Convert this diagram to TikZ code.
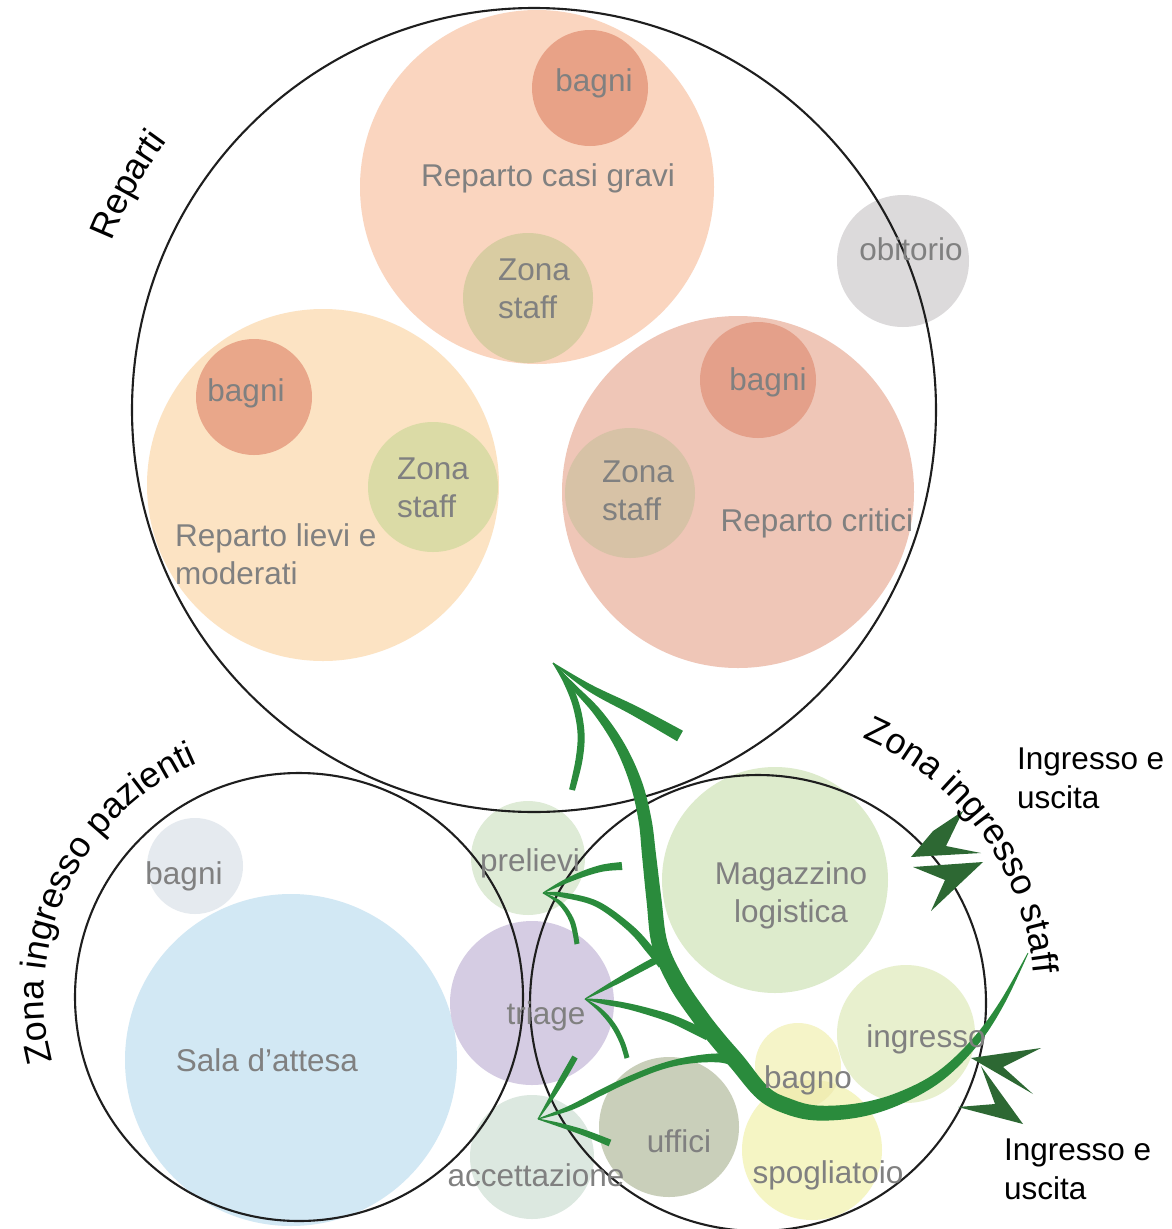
\documentclass[tikz,border=0pt]{standalone}
\usepackage{fontspec}
\setmainfont{Liberation Sans}
\usetikzlibrary{decorations.text}

% palette
\definecolor{txtgray}{HTML}{808080}
\definecolor{ringline}{HTML}{1E1E1E}
\definecolor{flowgreen}{HTML}{2A8B3C}
\definecolor{gatedark}{HTML}{2D6833}
\definecolor{cGravi}{HTML}{FAD5BF}
\definecolor{cGraviWc}{HTML}{E8A287}
\definecolor{cGraviStaff}{HTML}{D9CCA2}
\definecolor{cLievi}{HTML}{FCE3C3}
\definecolor{cLieviWc}{HTML}{E9A78A}
\definecolor{cLieviStaff}{HTML}{DBDBA6}
\definecolor{cCritici}{HTML}{EFC6B7}
\definecolor{cCriticiWc}{HTML}{E4A08A}
\definecolor{cCriticiStaff}{HTML}{D7C2A6}
\definecolor{cObitorio}{HTML}{DCDADB}
\definecolor{cWcPaz}{HTML}{E5EAEF}
\definecolor{cSala}{HTML}{D2E8F4}
\definecolor{cPrelievi}{HTML}{DEEBD6}
\definecolor{cTriage}{HTML}{D5CCE3}
\definecolor{cAccett}{HTML}{DCE8E0}
\definecolor{cMagazz}{HTML}{DDEBCC}
\definecolor{cIngresso}{HTML}{E8F0CE}
\definecolor{cBagno}{HTML}{F5F4C8}
\definecolor{cBagnoMix}{HTML}{F0EDB3}
\definecolor{cSpogl}{HTML}{F5F5C4}
\definecolor{cUffici}{HTML}{C9CFBA}

\newcommand\lblfont{\fontsize{31.5}{38}\selectfont}
\newcommand\iofont{\fontsize{31.5}{39}\selectfont}
\newcommand\zonefont{\fontsize{36}{40}\selectfont}

% Tapered brush stroke: #1 fill colour, #2 list of x/y/width along the centre line
\newcommand\brush[2]{%
  \foreach \px/\py/\pw [count=\k] in {#2}{%
    \expandafter\xdef\csname brx\k\endcsname{\px}%
    \expandafter\xdef\csname bry\k\endcsname{\py}%
    \expandafter\xdef\csname brw\k\endcsname{\pw}%
    \xdef\brn{\k}%
  }%
  \gdef\brL{}\gdef\brR{}%
  \foreach \i in {1,...,\brn}{%
    \pgfmathtruncatemacro\ia{max(\i-1,1)}%
    \pgfmathtruncatemacro\ib{min(\i+1,\brn)}%
    \edef\xa{\csname brx\ia\endcsname}\edef\ya{\csname bry\ia\endcsname}%
    \edef\xb{\csname brx\ib\endcsname}\edef\yb{\csname bry\ib\endcsname}%
    \edef\xc{\csname brx\i\endcsname}\edef\yc{\csname bry\i\endcsname}%
    \edef\wc{\csname brw\i\endcsname}%
    \pgfmathsetmacro\an{atan2(\yb-\ya,\xb-\xa)+90}%
    \pgfmathsetmacro\lx{\xc+0.5*\wc*cos(\an)}%
    \pgfmathsetmacro\ly{\yc+0.5*\wc*sin(\an)}%
    \pgfmathsetmacro\rx{\xc-0.5*\wc*cos(\an)}%
    \pgfmathsetmacro\ry{\yc-0.5*\wc*sin(\an)}%
    \xdef\brL{\brL(\lx,\ly)}%
    \xdef\brR{(\rx,\ry)\brR}%
  }%
  \edef\brcmd{\noexpand\fill[#1] plot[smooth,tension=0.6] coordinates {\brL} -- plot[smooth,tension=0.6] coordinates {\brR} -- cycle;}%
  \brcmd
}

\begin{document}
\begin{tikzpicture}[x=1pt,y=-1pt,
  ring/.style={draw=ringline, line width=2.1pt},
  lbl/.style={text=txtgray, font=\lblfont, inner sep=0pt, text height=22.5pt, text depth=0pt},
  lblm/.style={text=txtgray, font=\lblfont, inner sep=0pt},
  zone/.style={text=black, font=\iofont, inner sep=0pt, align=left, anchor=west},
  curved/.style={decorate, decoration={text along path, text align=center, text={|\zonefont|#1}}},
  gate/.style={fill=gatedark}
]
\useasboundingbox (0,0) rectangle (1171,1229);
\fill[white] (0,0) rectangle (1171,1229);

% wards
\fill[cGravi] (537,187) circle[radius=177];
\fill[cGraviWc] (590,88) circle[radius=58];
\fill[cGraviStaff] (528,298) circle[radius=65];
\fill[cLievi] (323,485) circle[radius=176];
\fill[cLieviWc] (254,397) circle[radius=58];
\fill[cLieviStaff] (433,487) circle[radius=65];
\fill[cCritici] (738,492) circle[radius=176];
\fill[cCriticiWc] (758,380) circle[radius=58];
\fill[cCriticiStaff] (630,493) circle[radius=65];
\fill[cObitorio] (903,261) circle[radius=66];

% patients' entrance
\fill[cWcPaz] (195,866) circle[radius=48];
\fill[cSala] (291,1060) circle[radius=166];
\fill[cPrelievi] (528,858) circle[radius=57];
\fill[cTriage] (532,1003) circle[radius=82];
\fill[cAccett] (532,1157) circle[radius=62];

% staff entrance
\fill[cMagazz] (775,880) circle[radius=113];
\fill[cIngresso] (906,1034) circle[radius=69];
\fill[cSpogl] (812,1150) circle[radius=70];
\fill[cBagno] (798,1066) circle[radius=43];
\begin{scope}
  \clip (812,1150) circle[radius=70];
  \fill[cBagnoMix] (798,1066) circle[radius=43];
\end{scope}
\fill[cUffici] (669,1127) circle[radius=70];

% zone outlines
\draw[ring] (534,410) circle[radius=402];
\draw[ring] (299,997) circle[radius=224];
\draw[ring] (758,1003) circle[radius=228];

% main staff route
\brush{flowgreen}{553/663/0.5, 573/686/5, 598/713/8, 620/746/10, 636/783/12, 645/820/13, 649/855/14, 654/900/15, 660/945/16, 677/983/17, 700/1017/17, 718/1040/17, 737/1062/17, 763/1093/16, 787/1106/16, 817/1113/15, 860/1110/14, 900/1098/12, 940/1076/10, 975/1042/8, 1002/1003/5, 1028/953/0.8}
% head towards the wards
\brush{flowgreen}{553/663/1, 566/681/6, 576/705/7, 581/733/7, 579/760/7, 572/790/6}
\brush{flowgreen}{553/663/1, 590/688/7, 635/711/10, 680/736/12}
% branch to prelievi
\brush{flowgreen}{543/893/1, 563/895/5, 597/904/6, 630/928/7, 650/950/8, 662/965/8}
\brush{flowgreen}{543/893/1, 562/883/4, 583/874/6, 603/868/7, 622/866/8}
\brush{flowgreen}{543/893/1, 560/903/4, 572/921/5, 577/944/5}
% branch to triage
\brush{flowgreen}{585/999/1, 605/1002/5, 627/1006/6, 650/1012/7, 672/1019/8, 692/1028/9, 708/1036/9}
\brush{flowgreen}{585/999/1, 605/988/4, 625/977/6, 645/966/7, 662/957/7}
\brush{flowgreen}{585/999/1, 600/1010/4, 613/1025/5, 622/1042/5, 627/1058/5}
% branch to accettazione
\brush{flowgreen}{538/1119/1, 570/1108/5, 600/1093/6, 625/1081/6, 660/1067/6, 690/1060/7, 720/1058/9, 738/1063/9}
\brush{flowgreen}{538/1119/1, 550/1100/4, 563/1078/6, 575/1057/6}
\brush{flowgreen}{538/1119/1, 560/1125/4, 585/1133/6, 610/1143/7}

% in/out gates
\fill[gate] (911,857) -- (933,831) -- (963,811) -- (946,846) -- (981,853) -- cycle;
\fill[gate] (983,862) -- (913,867) -- (945,880) -- (931,911) -- cycle;
\fill[gate] (971,1058) -- (1041,1048) -- (1003,1067) -- (1033,1094) -- cycle;
\fill[gate] (1023,1124) -- (981,1066) -- (995,1104) -- (958,1107) -- cycle;

% room labels
\node[lbl] (wc-gravi) at (594,80) {bagni};
\node[lbl] (t-gravi) at (548,175) {Reparto casi gravi};
\node[lblm, align=left, anchor=west] (st-gravi) at (498,289) {Zona\\staff};
\node[lbl] (t-obit) at (911,249) {obitorio};
\node[lbl] (wc-lievi) at (246,390) {bagni};
\node[lblm, align=left, anchor=west] (st-lievi) at (397,488) {Zona\\staff};
\node[lblm, align=left, anchor=west] (t-lievi) at (175,554) {Reparto lievi e\\moderati};
\node[lbl] (wc-crit) at (768,379) {bagni};
\node[lblm, align=left, anchor=west] (st-crit) at (602,491) {Zona\\staff};
\node[lbl] (t-crit) at (817,520) {Reparto critici};
\node[lbl] (wc-paz) at (184,873) {bagni};
\node[lbl] (t-sala) at (267,1060) {Sala d’attesa};
\node[lbl] (t-prel) at (530,860) {prelievi};
\node[lbl] (t-triage) at (546,1013) {triage};
\node[lbl] (t-acc) at (536,1175) {accettazione};
\node[lblm, align=center] (t-mag) at (791,895) {Magazzino\\logistica};
\node[lbl] (t-ingr) at (926,1036) {ingresso};
\node[lbl] (t-bagno) at (808,1077) {bagno};
\node[lbl] (t-uff) at (679,1141) {uffici};
\node[lbl] (t-spogl) at (828,1172) {spogliatoio};

% gate labels
\node[zone] (io-top) at (1017,778) {Ingresso e\\uscita};
\node[zone] (io-bot) at (1004,1169) {Ingresso e\\uscita};

% zone titles following the outlines
\path[curved={Reparti}] (534,410) ++(190:455) arc[start angle=190, end angle=228, radius=455];
\path[curved={Zona ingresso pazienti}] (299,997) ++(160:255) arc[start angle=160, end angle=252, radius=255];
\path[curved={Zona ingresso staff}] (750,1000) ++(285:285) arc[start angle=285, end angle=363, radius=285];
\end{tikzpicture}
\end{document}
